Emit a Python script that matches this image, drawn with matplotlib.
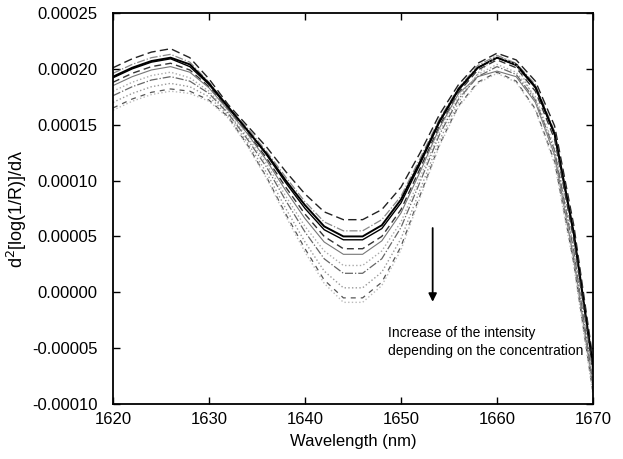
import numpy as np
import matplotlib
matplotlib.use("Agg")
import matplotlib.pyplot as plt
from matplotlib.ticker import FormatStrFormatter

plt.rcParams['font.family'] = ['Liberation Sans', 'DejaVu Sans']

# second derivative spectra, values in units of 1e-5
SCALE = 1e-5
WAVELENGTH = [1620, 1622, 1624, 1626, 1628, 1630, 1632, 1634, 1636, 1638, 1640, 1642, 1644,
              1646, 1648, 1650, 1652, 1654, 1656, 1658, 1660, 1662, 1664, 1666, 1668, 1670]

spec_a = [20.1, 20.9, 21.5, 21.8, 21.0, 19.1, 16.8, 14.9, 13.0, 10.8, 8.8, 7.2, 6.5,
          6.5, 7.4, 9.4, 12.5, 15.9, 18.6, 20.5, 21.4, 20.8, 18.9, 14.9, 6.0, -6.0]
spec_b = [19.6, 20.4, 21.0, 21.3, 20.6, 18.8, 16.6, 14.7, 12.6, 10.3, 8.1, 6.3, 5.5,
          5.5, 6.5, 8.6, 12.0, 15.5, 18.3, 20.3, 21.2, 20.5, 18.6, 14.4, 5.5, -6.4]
spec_c = [19.3, 20.1, 20.7, 21.0, 20.4, 18.7, 16.6, 14.5, 12.4, 10.0, 7.8, 5.9, 5.0,
          5.0, 6.0, 8.3, 11.7, 15.3, 18.2, 20.1, 21.0, 20.4, 18.4, 14.2, 5.3, -6.6]
spec_d = [19.2, 20.0, 20.6, 20.9, 20.2, 18.6, 16.5, 14.5, 12.3, 9.8, 7.5, 5.6, 4.7,
          4.7, 5.7, 8.0, 11.5, 15.2, 18.1, 20.1, 21.0, 20.3, 18.3, 14.1, 5.1, -6.8]
spec_e = [18.8, 19.6, 20.2, 20.5, 19.9, 18.4, 16.4, 14.3, 12.0, 9.4, 7.0, 5.0, 3.9,
          3.9, 5.0, 7.4, 11.1, 14.9, 17.9, 19.9, 20.8, 20.1, 18.0, 13.7, 4.7, -7.1]
spec_f = [18.5, 19.3, 19.9, 20.2, 19.7, 18.3, 16.3, 14.2, 11.8, 9.1, 6.6, 4.5, 3.4,
          3.4, 4.6, 7.1, 10.8, 14.7, 17.8, 19.3, 19.8, 19.3, 17.0, 12.3, 3.0, -8.5]
spec_g = [18.0, 18.8, 19.4, 19.7, 19.2, 18.0, 16.1, 13.9, 11.5, 8.6, 5.9, 3.7, 2.4,
          2.4, 3.7, 6.3, 10.3, 14.4, 17.5, 19.5, 20.4, 19.7, 17.5, 13.0, 4.0, -7.8]
spec_h = [17.6, 18.4, 19.0, 19.3, 18.9, 17.8, 16.0, 13.7, 11.2, 8.2, 5.4, 3.0, 1.7,
          1.7, 3.0, 5.8, 9.9, 14.1, 17.3, 19.3, 20.2, 19.5, 17.2, 12.7, 3.7, -8.1]
spec_i = [17.0, 17.8, 18.4, 18.7, 18.4, 17.5, 15.8, 13.4, 10.7, 7.5, 4.5, 1.9, 0.4,
          0.4, 1.8, 4.8, 9.2, 13.6, 17.0, 19.6, 21.2, 20.4, 17.2, 12.1, 3.0, -8.6]
spec_j = [16.5, 17.3, 17.9, 18.2, 18.0, 17.2, 15.7, 13.2, 10.3, 7.0, 3.9, 1.1, -0.5,
          -0.5, 0.9, 4.1, 8.7, 13.2, 16.7, 18.8, 19.7, 18.9, 16.4, 11.7, 2.6, -9.0]
spec_k = [16.3, 17.1, 17.7, 18.0, 17.8, 17.1, 15.6, 13.1, 10.2, 6.8, 3.6, 0.8, -0.9,
          -0.9, 0.6, 3.8, 8.5, 13.1, 16.6, 18.7, 19.6, 18.8, 16.3, 11.5, 2.4, -9.2]

SPECTRA = [spec_a, spec_b, spec_c, spec_d, spec_e, spec_f,
           spec_g, spec_h, spec_i, spec_j, spec_k]
STYLES = [('#222222', (0, (6, 3)), 1.0),
          ('#888888', '-.', 0.9),
          ('black', '-', 1.4),
          ('black', '-', 1.0),
          ('#333333', (0, (5, 3)), 1.0),
          ('#777777', '-', 0.8),
          ('#aaaaaa', ':', 1.0),
          ('#666666', '-.', 0.9),
          ('#999999', ':', 1.0),
          ('#555555', (0, (4, 4)), 0.9),
          ('#bbbbbb', ':', 1.0)]

fig = plt.figure(figsize=(6.23, 4.59), dpi=100)
ax = fig.add_axes([0.1814, 0.1198, 0.7704, 0.8519])

x = np.array(WAVELENGTH)
for spec, (col, ls, lw) in zip(SPECTRA, STYLES):
    ax.plot(x, np.array(spec) * SCALE, color=col, linestyle=ls, linewidth=lw)

ax.annotate('', xy=(1653.3, -0.000011), xytext=(1653.3, 0.00006),
            arrowprops=dict(arrowstyle='-|>', color='black', lw=1.3, mutation_scale=12))
ax.text(1648.6, -0.0000445, 'Increase of the intensity\ndepending on the concentration',
        fontsize=10, va='center', ha='left', linespacing=1.35)

ax.set_xlim(1620, 1670)
ax.set_ylim(-0.0001, 0.00025)
ax.set_xticks(np.arange(1620, 1671, 10))
ax.set_yticks(np.arange(-0.0001, 0.000251, 0.00005))
ax.yaxis.set_major_formatter(FormatStrFormatter('%.5f'))
ax.tick_params(direction='in', top=True, right=True, length=5, labelsize=12, width=1)
ax.tick_params(axis='y', pad=11)
ax.tick_params(axis='x', pad=6)
for s in ax.spines.values():
    s.set_linewidth(1.3)
ax.set_xlabel('Wavelength (nm)', fontsize=12, labelpad=5)
ax.set_ylabel('d$^2$[log(1/R)]/dλ', fontsize=13)
ax.yaxis.set_label_coords(-0.175, 0.5)

fig.savefig('out.png', dpi=100)
